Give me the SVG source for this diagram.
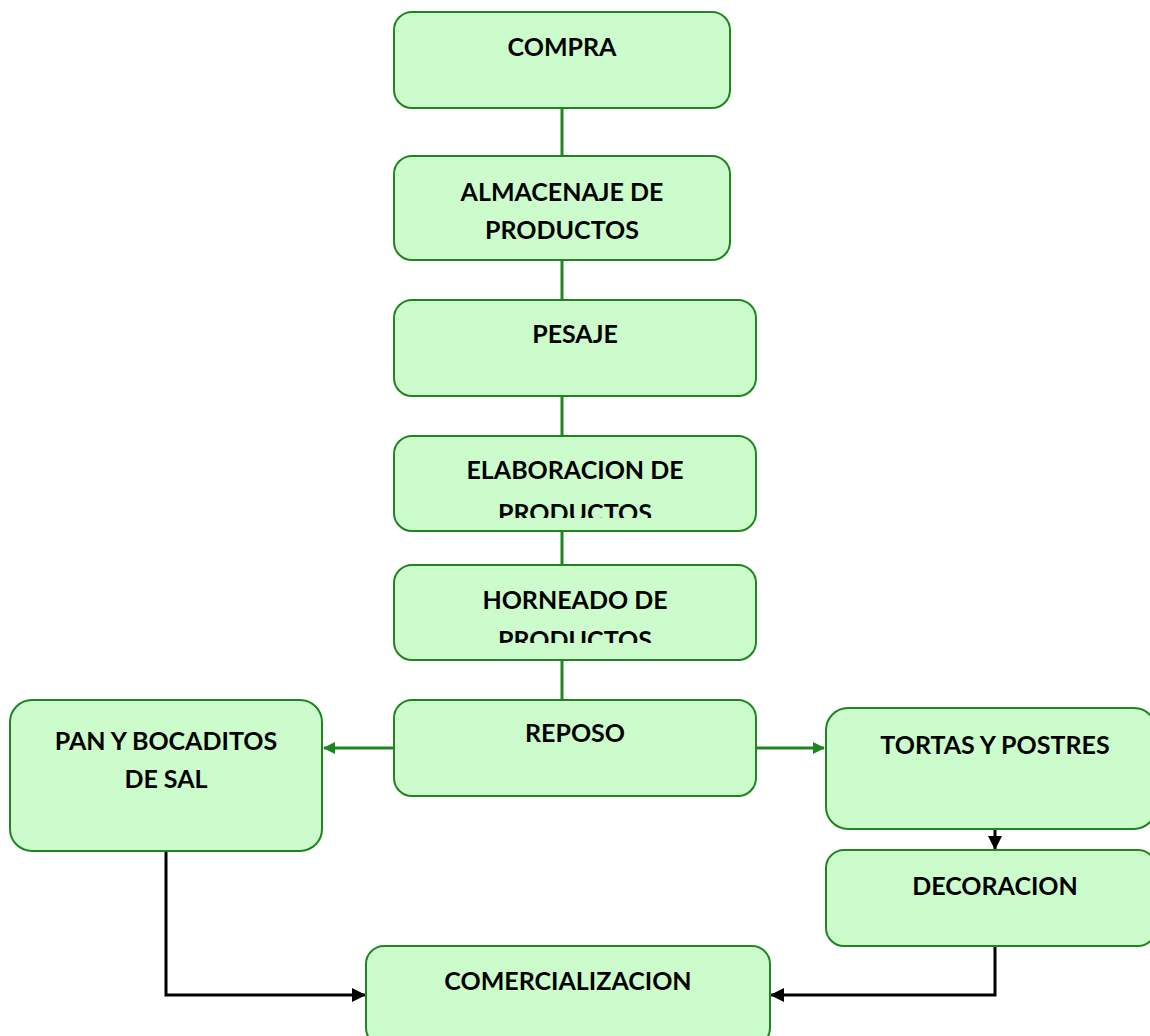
<svg xmlns="http://www.w3.org/2000/svg" width="1150" height="1036" viewBox="0 0 1150 1036">
<style>
.box{fill:#ccfccc;stroke:#1f861f;stroke-width:2}
.t{font-family:Lato,"Open Sans","Liberation Sans",sans-serif;font-weight:bold;font-size:25px;fill:#000;text-anchor:middle}
.g{stroke:#1f861f;stroke-width:3;fill:none}
.k{stroke:#000;stroke-width:3;fill:none}
</style>
<defs>
<marker id="ag" markerWidth="12" markerHeight="12" refX="11" refY="6" orient="auto" markerUnits="userSpaceOnUse"><path d="M0,0 L12,6 L0,12 z" fill="#1f861f"/></marker>
<marker id="ak" markerWidth="14" markerHeight="14" refX="13" refY="7" orient="auto" markerUnits="userSpaceOnUse"><path d="M0,0 L14,7 L0,14 z" fill="#000"/></marker>
<clipPath id="c1"><rect x="394" y="436" width="362" height="82"/></clipPath>
<clipPath id="c2"><rect x="394" y="565" width="362" height="78"/></clipPath>
</defs>
<rect width="1150" height="1036" fill="#fff"/>
<g id="connectors">
<line class="g" x1="562" y1="108" x2="562" y2="156"/>
<line class="g" x1="562" y1="253" x2="562" y2="300"/>
<line class="g" x1="562" y1="396" x2="562" y2="436"/>
<line class="g" x1="562" y1="531" x2="562" y2="565"/>
<line class="g" x1="562" y1="660" x2="562" y2="700"/>
<line class="g" x1="394" y1="748" x2="324" y2="748" marker-end="url(#ag)"/>
<line class="g" x1="756" y1="748" x2="824" y2="748" marker-end="url(#ag)"/>
<line class="k" x1="995" y1="829" x2="995" y2="849" marker-end="url(#ak)"/>
<polyline class="k" points="166,851 166,995 365,995" marker-end="url(#ak)"/>
<polyline class="k" points="995,946 995,995 771,995" marker-end="url(#ak)"/>
</g>
<g id="compra"><rect class="box" x="394" y="12" width="336" height="96" rx="18"/><text class="t" x="562" y="56">COMPRA</text></g>
<g id="almacenaje"><rect class="box" x="394" y="156" width="336" height="104" rx="18"/><text class="t" x="562" y="201">ALMACENAJE DE</text><text class="t" x="562" y="239">PRODUCTOS</text></g>
<g id="pesaje"><rect class="box" x="394" y="300" width="362" height="96" rx="18"/><text class="t" x="575" y="343">PESAJE</text></g>
<g id="elaboracion"><rect class="box" x="394" y="436" width="362" height="95" rx="18"/><text class="t" x="575" y="479">ELABORACION DE</text><text class="t" x="575" y="522" clip-path="url(#c1)">PRODUCTOS</text></g>
<g id="horneado"><rect class="box" x="394" y="565" width="362" height="95" rx="18"/><text class="t" x="575" y="609">HORNEADO DE</text><text class="t" x="575" y="649" clip-path="url(#c2)">PRODUCTOS</text></g>
<g id="reposo"><rect class="box" x="394" y="700" width="362" height="96" rx="18"/><text class="t" x="575" y="742">REPOSO</text></g>
<g id="pan"><rect class="box" x="10" y="700" width="312" height="151" rx="22"/><text class="t" x="166" y="750">PAN Y BOCADITOS</text><text class="t" x="166" y="788">DE SAL</text></g>
<g id="tortas"><rect class="box" x="826" y="708" width="330" height="121" rx="22"/><text class="t" x="995" y="754">TORTAS Y POSTRES</text></g>
<g id="decoracion"><rect class="box" x="826" y="850" width="330" height="96" rx="18"/><text class="t" x="995" y="895">DECORACION</text></g>
<g id="comercializacion"><rect class="box" x="366" y="946" width="404" height="100" rx="18"/><text class="t" x="568" y="990">COMERCIALIZACION</text></g>
</svg>
